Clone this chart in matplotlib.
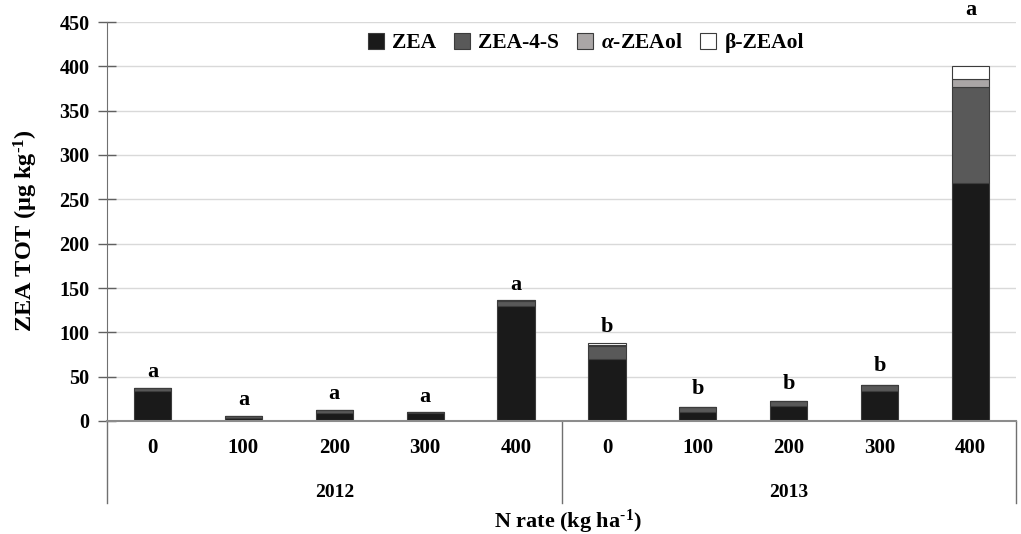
import matplotlib
matplotlib.use("Agg")
import matplotlib.pyplot as plt
import numpy as np
from matplotlib.patches import Patch

plt.rcParams['font.family'] = ['Liberation Serif', 'DejaVu Serif']
plt.rcParams['font.weight'] = 'bold'
plt.rcParams['mathtext.fontset'] = 'custom'
plt.rcParams['mathtext.rm'] = 'Liberation Serif:bold'
plt.rcParams['mathtext.bf'] = 'Liberation Serif:bold'
plt.rcParams['mathtext.it'] = 'Liberation Serif:italic:bold'
plt.rcParams['mathtext.default'] = 'rm'

years = ["2012", "2013"]
n_rates = ["0", "100", "200", "300", "400"]
zea = [34, 3, 8.5, 8.5, 130, 70, 10, 17, 34, 268]
zea4s = [3, 2.5, 4, 2, 5, 15, 5.5, 6, 7, 109]
a_zeaol = [0, 0, 0, 0, 1, 1, 0, 0, 0, 9]
b_zeaol = [0, 0, 0, 0, 0, 2, 0, 0, 0, 14]
letters = ["a", "a", "a", "a", "a", "b", "b", "b", "b", "a"]
letter_y = [55.5, 23.5, 30, 27.5, 153, 106, 36.5, 42, 61.5, 463]

series = [zea, zea4s, a_zeaol, b_zeaol]
names = ["ZEA", "ZEA-4-S", r"$\mathit{\alpha}$-ZEAol", "β-ZEAol"]
colors = ["#1a1a1a", "#595959", "#aaa6a6", "#ffffff"]

fig = plt.figure(figsize=(10.21, 5.34), dpi=100)
ax = fig.add_axes([107/1021, (534-421)/534, (1016-107)/1021, 399/534])

x = np.arange(len(zea))
bottom = np.zeros(len(zea))
for vals, c in zip(series, colors):
    v = np.array(vals, dtype=float)
    ax.bar(x, v, width=0.41, bottom=bottom, color=c, edgecolor="#3c3c3c",
           linewidth=0.8, zorder=3)
    bottom += v

for xi, lab, ly in zip(x, letters, letter_y):
    ax.text(xi, ly, lab, ha='center', va='center', fontsize=16,
            fontweight='bold', clip_on=False, zorder=4)

ax.set_xlim(-0.5, 9.5)
ax.set_ylim(0, 450)
ax.set_yticks(np.arange(0, 451, 50))
ax.tick_params(axis='y', direction='inout', length=13, width=1,
               color='#606060', labelsize=14.5, pad=6)
for t in ax.get_yticklabels():
    t.set_fontweight('bold')
ax.set_xticks([])
ax.grid(axis='y', color='#d9d9d9', linewidth=1, zorder=0)
ax.set_axisbelow(True)

for s in ['top', 'right']:
    ax.spines[s].set_visible(False)
ax.spines['left'].set_color('#707070')
ax.spines['bottom'].set_color('#8c8c8c')
ax.spines['bottom'].set_linewidth(1.5)
ax.spines['bottom'].set_zorder(5)

trans = ax.get_xaxis_transform()
for xv in [-0.5, 4.5, 9.5]:
    ax.plot([xv, xv], [0, -0.205], transform=trans, color='#707070',
            linewidth=1, clip_on=False)

labels_all = n_rates + n_rates
for xi, lab in zip(x, labels_all):
    ax.text(xi, -0.068, lab, transform=trans, ha='center', va='center',
            fontsize=15, fontweight='bold')
for gi, yr in enumerate(years):
    ax.text(2 + 5 * gi, -0.178, yr, transform=trans, ha='center', va='center',
            fontsize=14, fontweight='bold')

ax.text(4.57, -0.253, "N rate (kg ha$^{\u2010}$$^{1}$)", transform=trans, ha='center',
        va='center', fontsize=16, fontweight='bold')
fig.text(26/1021, (534-231)/534, "ZEA TOT (µg kg$^{\u20101}$)", rotation=90,
         ha='center', va='center', fontsize=17.5, fontweight='bold')

handles = [Patch(facecolor=c, edgecolor='#3c3c3c', linewidth=0.8) for c in colors]
leg = ax.legend(handles, names, loc='center', bbox_to_anchor=(0.527, 0.947),
                ncol=4, frameon=False, handlelength=0.75,
                handleheight=0.75, handletextpad=0.4, columnspacing=0.8,
                prop={'weight': 'bold', 'size': 15.5})

fig.savefig("out.png", dpi=100)
